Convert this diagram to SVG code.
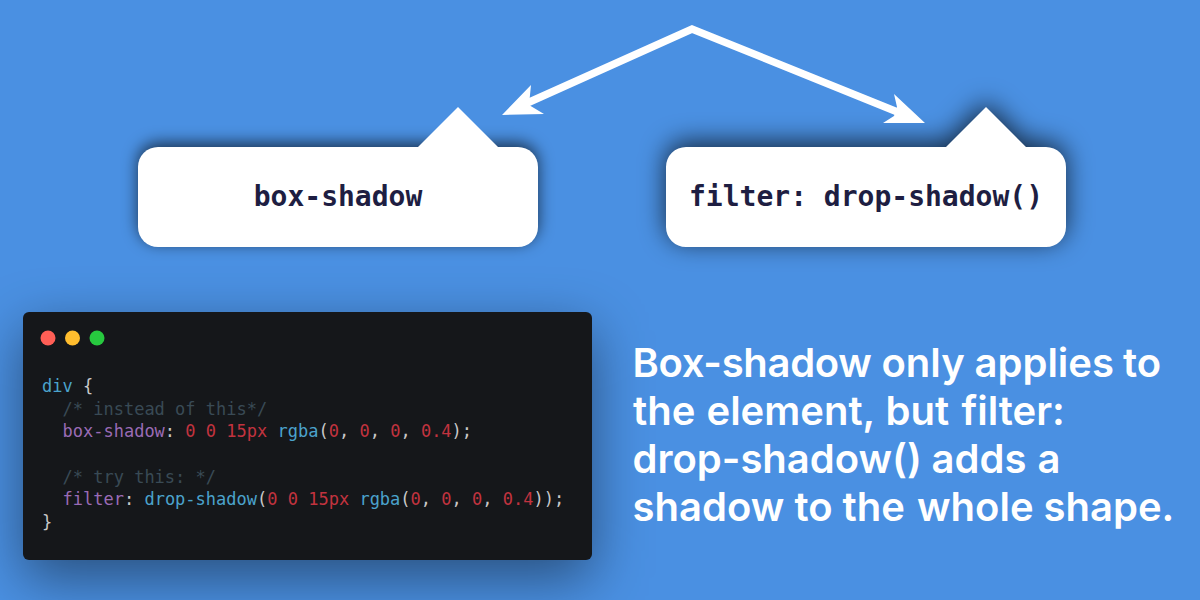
<svg xmlns="http://www.w3.org/2000/svg" width="1200" height="600" viewBox="0 0 1200 600">
<defs>
<style>
.lbl{font-family:"DejaVu Sans Mono",monospace;font-weight:700;font-size:28px;fill:#1e1e42;text-anchor:middle}
.code{font-family:"DejaVu Sans Mono",monospace;font-size:17px;fill:#c8c8c8}
.k{fill:#4ba3cc}.p{fill:#9a6bb5}.n{fill:#c2333f}.c{fill:#394a55}
.big{font-family:Inter,"Noto Sans",sans-serif;font-weight:600;font-size:40px;fill:#fff}
.arrow{fill:none;stroke:#fff;stroke-width:7.5;stroke-linejoin:miter}
</style>
<filter id="s1" x="-20%" y="-50%" width="140%" height="200%"><feGaussianBlur stdDeviation="8"/></filter>
<filter id="s2" x="-30%" y="-80%" width="160%" height="260%"><feGaussianBlur stdDeviation="13"/></filter>
<filter id="s3" x="-30%" y="-50%" width="160%" height="200%"><feGaussianBlur stdDeviation="28"/></filter>
</defs>
<rect width="1200" height="600" fill="#4a90e2"/>
<g id="node-box-shadow">
<rect x="138" y="143" width="400" height="100" rx="20" fill="#000" fill-opacity=".65" filter="url(#s1)"/>
<path d="M418 147L458 107L498 147Z" fill="#fff"/>
<rect x="138" y="147" width="400" height="100" rx="20" fill="#fff"/>
<text class="lbl" x="338" y="206">box-shadow</text>
</g>
<g id="node-drop-shadow">
<path transform="translate(0 -5)" d="M686 147H946L986 107L1026 147H1046A20 20 0 0 1 1066 167V227A20 20 0 0 1 1046 247H686A20 20 0 0 1 666 227V167A20 20 0 0 1 686 147Z" fill="#000" fill-opacity=".7" filter="url(#s2)"/>
<path d="M686 147H946L986 107L1026 147H1046A20 20 0 0 1 1066 167V227A20 20 0 0 1 1046 247H686A20 20 0 0 1 666 227V167A20 20 0 0 1 686 147Z" fill="#fff"/>
<text class="lbl" x="866" y="206">filter: drop-shadow()</text>
</g>
<g id="connectors">
<polyline class="arrow" points="525,104 692,29 900,113"/>
<path d="M502 115L531 85L529 105L544 114Z" fill="#fff"/>
<path d="M925 123L894 94L897 107L894 116L883 123Z" fill="#fff"/>
</g>
<g id="code-panel">
<rect x="23" y="330" width="569" height="248" rx="6" fill="#000" fill-opacity=".45" filter="url(#s3)"/>
<rect x="23" y="312" width="569" height="248" rx="6" fill="#15171a"/>
<circle cx="48" cy="338" r="7.5" fill="#ff5f56"/>
<circle cx="72.5" cy="338" r="7.5" fill="#ffbd2e"/>
<circle cx="97" cy="338" r="7.5" fill="#27c93f"/>
<text class="code" x="42" y="392"><tspan class="k">div</tspan> {</text>
<text class="code" x="62.5" y="415"><tspan class="c">/* instead of this*/</tspan></text>
<text class="code" x="62.5" y="437"><tspan class="p">box-shadow</tspan>: <tspan class="n">0 0 15px</tspan> <tspan class="k">rgba</tspan>(<tspan class="n">0</tspan>, <tspan class="n">0</tspan>, <tspan class="n">0</tspan>, <tspan class="n">0.4</tspan>);</text>
<text class="code" x="62.5" y="483"><tspan class="c">/* try this: */</tspan></text>
<text class="code" x="62.5" y="505"><tspan class="p">filter</tspan>: <tspan class="k">drop-shadow</tspan>(<tspan class="n">0 0 15px</tspan> <tspan class="k">rgba</tspan>(<tspan class="n">0</tspan>, <tspan class="n">0</tspan>, <tspan class="n">0</tspan>, <tspan class="n">0.4</tspan>));</text>
<text class="code" x="42" y="528">}</text>
</g>
<g id="caption">
<text class="big" y="377"><tspan x="632.5" letter-spacing="-.3">Box-shadow</tspan> <tspan x="881.5">only</tspan> <tspan x="974.5">applies</tspan> <tspan x="1123">to</tspan></text>
<text class="big" y="425"><tspan x="633">the</tspan> <tspan x="706.5">element,</tspan> <tspan x="885.5">but</tspan> <tspan x="961.5">filter:</tspan></text>
<text class="big" y="473"><tspan x="632.5">drop-shadow()</tspan> <tspan x="931.5">adds</tspan> <tspan x="1037.5">a</tspan></text>
<text class="big" y="521"><tspan x="632.5">shadow</tspan> <tspan x="794.5">to</tspan> <tspan x="842.5">the</tspan> <tspan x="917">whole</tspan> <tspan x="1043.5">shape.</tspan></text>
</g>
</svg>
